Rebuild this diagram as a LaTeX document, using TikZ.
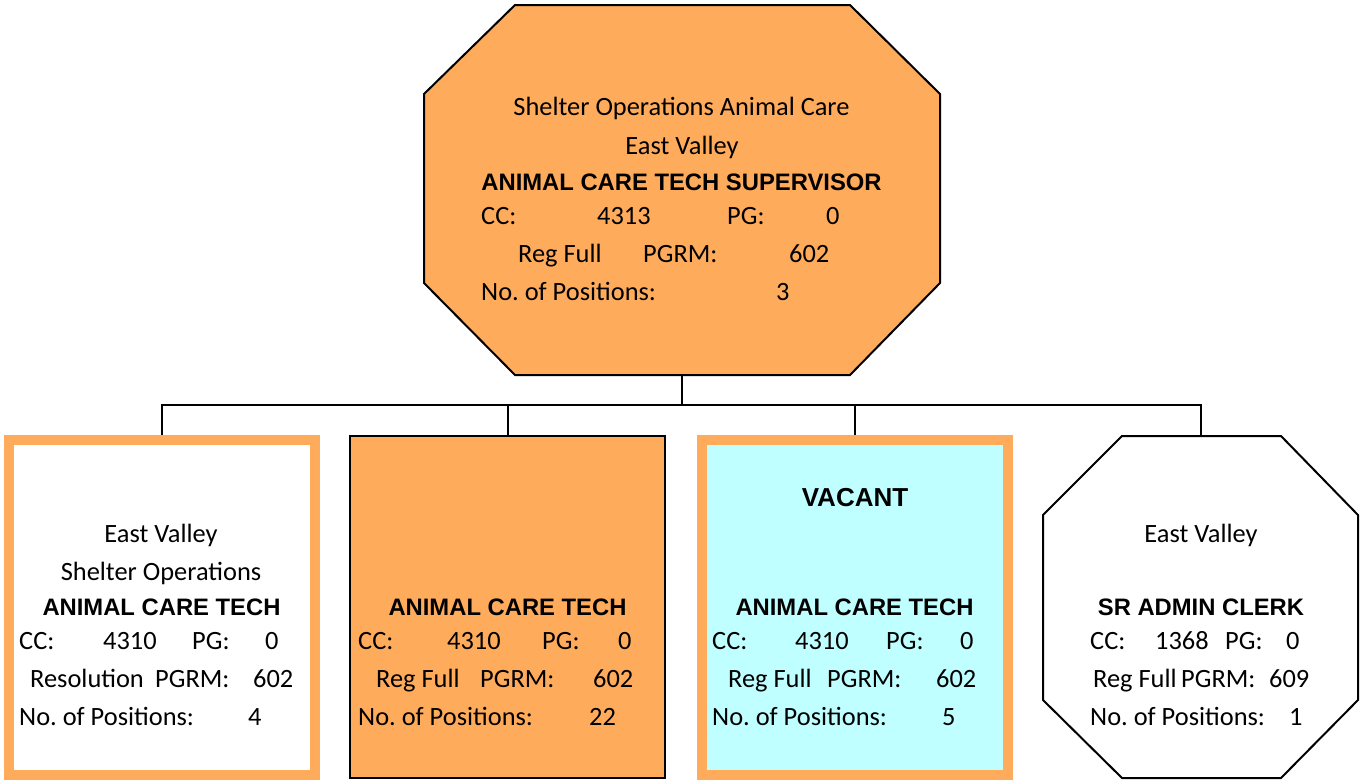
\documentclass[tikz,border=0pt]{standalone}
\usepackage{fontspec}
\setmainfont{Carlito}
\newfontfamily\arialf{Liberation Sans}
\definecolor{orng}{HTML}{FFAB5C}
\definecolor{cyn}{HTML}{C0FFFF}
\frenchspacing
\begin{document}
\begin{tikzpicture}[x=1pt,y=-1pt,
  txt/.style={inner sep=0pt, font=\fontsize{26.4}{30}\selectfont},
  lt/.style={txt, anchor=base west},
  ct/.style={txt, anchor=base},
  bt/.style={inner sep=0pt, anchor=base, font=\fontsize{23.8}{28}\selectfont\arialf\bfseries},
  wire/.style={draw=black, line width=2pt},
  obox/.style={draw=orng, line width=10pt, minimum width=306pt, minimum height=335pt, inner sep=0pt},
  kbox/.style={draw=black, line width=2pt, fill=orng, minimum width=315pt, minimum height=342pt, inner sep=0pt}]
\useasboundingbox (0,0) rectangle (1360,782);
\fill[white] (0,0) rectangle (1360,782);
% top octagon
\draw[fill=orng, line width=2pt] (515,5) -- (850,5) -- (940,94) -- (940,283) -- (850,375) -- (515,375) -- (424,283) -- (424,94) -- cycle;
\coordinate (topb) at (682,375);
\coordinate (bus) at (682,405);
% children
\node[obox, fill=white] (b1) at (161.5,607.5) {};
\node[kbox] (b2) at (507.5,607) {};
\node[obox, fill=cyn] (b3) at (855,607.5) {};
\draw[fill=white, line width=2pt] (1122,436) -- (1281,436) -- (1358,515) -- (1358,700) -- (1281,778) -- (1122,778) -- (1043,700) -- (1043,515) -- cycle;
\coordinate (b4t) at (1201,436);
% connectors
\draw[wire] (topb) -- (bus);
\draw[wire] (b1.north) -- (b1.north |- bus) -- (bus -| b4t) -- (b4t);
\draw[wire] (b2.north) -- (b2.north |- bus);
\draw[wire] (b3.north) -- (b3.north |- bus);
% top texts
\node[ct] (t1) at (681.5,115.5) {Shelter Operations Animal Care};
\node[ct] (t2) at (682,154.5) {East Valley};
\node[bt] (t3) at (681.5,190) {ANIMAL CARE TECH SUPERVISOR};
\node[lt] (t4) at (481,224.5) {CC:};
\node[lt] (t5) at (597,224.5) {4313};
\node[lt] (t6) at (727,224.5) {PG:};
\node[lt] (t7) at (826,224.5) {0};
\node[lt] (t8) at (518,262.5) {Reg Full};
\node[lt] (t9) at (643,262.5) {PGRM:};
\node[lt] (t10) at (789,262.5) {602};
\node[lt] (t11) at (481,300.5) {No. of Positions:};
\node[lt] (t12) at (776,300.5) {3};
% box 1
\node[ct] (a1) at (161,542.5) {East Valley};
\node[ct] (a2) at (161,580.5) {Shelter Operations};
\node[bt] (a3) at (161.5,615.5) {ANIMAL CARE TECH};
\node[lt] (a4) at (19,649.5) {CC:};
\node[lt] (a5) at (103,649.5) {4310};
\node[lt] (a6) at (192,649.5) {PG:};
\node[lt] (a7) at (265,649.5) {0};
\node[lt] (a8) at (30,687.5) {Resolution};
\node[lt] (a9) at (155,687.5) {PGRM:};
\node[lt] (a10) at (253,687.5) {602};
\node[lt] (a11) at (19,725.5) {No. of Positions:};
\node[lt] (a12) at (248,725.5) {4};
% box 2
\node[bt] (c3) at (507.5,615.5) {ANIMAL CARE TECH};
\node[lt] (c4) at (358,649.5) {CC:};
\node[lt] (c5) at (447,649.5) {4310};
\node[lt] (c6) at (542,649.5) {PG:};
\node[lt] (c7) at (618,649.5) {0};
\node[lt] (c8) at (376,687.5) {Reg Full};
\node[lt] (c9) at (480,687.5) {PGRM:};
\node[lt] (c10) at (593,687.5) {602};
\node[lt] (c11) at (358,725.5) {No. of Positions:};
\node[lt] (c12) at (589,725.5) {22};
% box 3
\node[bt, font=\fontsize{26}{30}\selectfont\arialf\bfseries] (d0) at (855,506) {VACANT};
\node[bt] (d3) at (854.5,615.5) {ANIMAL CARE TECH};
\node[lt] (d4) at (712,649.5) {CC:};
\node[lt] (d5) at (795,649.5) {4310};
\node[lt] (d6) at (886,649.5) {PG:};
\node[lt] (d7) at (960,649.5) {0};
\node[lt] (d8) at (728,687.5) {Reg Full};
\node[lt] (d9) at (827,687.5) {PGRM:};
\node[lt] (d10) at (936,687.5) {602};
\node[lt] (d11) at (712,725.5) {No. of Positions:};
\node[lt] (d12) at (942,725.5) {5};
% box 4
\node[ct] (e1) at (1201,542.5) {East Valley};
\node[bt] (e3) at (1201,615.5) {SR ADMIN CLERK};
\node[lt] (e4) at (1090,649.5) {CC:};
\node[lt] (e5) at (1155,649.5) {1368};
\node[lt] (e6) at (1225,649.5) {PG:};
\node[lt] (e7) at (1286,649.5) {0};
\node[lt] (e8) at (1093,687.5) {Reg Full};
\node[lt] (e9) at (1181,687.5) {PGRM:};
\node[lt] (e10) at (1269,687.5) {609};
\node[lt] (e11) at (1090,725.5) {No. of Positions:};
\node[lt] (e12) at (1289,725.5) {1};
\end{tikzpicture}
\end{document}
